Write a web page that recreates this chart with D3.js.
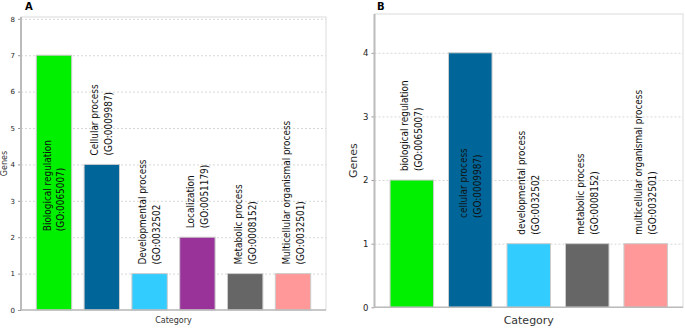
<!DOCTYPE html>
<html>
<head>
<meta charset="utf-8">
<script src="https://cdn.jsdelivr.net/npm/d3@7"></script>
<style>
  body { margin: 0; background: #fff; }
  svg { display: block; font-family: "DejaVu Sans", sans-serif; }
</style>
</head>
<body>
<svg id="chart" width="685" height="328"></svg>
<script>
// panel A
const namesA = ["Biological regulation", "Cellular process", "Developmental process",
  "Localization", "Metabolic process", "Multicellular organismal process"];
const goA = ["(GO:0065007)", "(GO:0009987)", "(GO:0032502", "(GO:0051179)", "(GO:0008152)", "(GO:0032501)"];
const valuesA = [7, 4, 1, 2, 1, 1];
const colorsA = ["#00f000", "#006699", "#33ccff", "#993399", "#666666", "#ff9999"];
const ticksA = [0, 1, 2, 3, 4, 5, 6, 7, 8];

// panel B
const namesB = ["biological regulation", "cellular process", "developmental process",
  "metabolic process", "multicellular organismal process"];
const goB = ["(GO:0065007)", "(GO:0009987)", "(GO:0032502", "(GO:0008152)", "(GO:0032501)"];
const valuesB = [2, 4, 1, 1, 1];
const colorsB = ["#00f000", "#006699", "#33ccff", "#666666", "#ff9999"];
const ticksB = [0, 1, 2, 3, 4];

const svg = d3.select("#chart");

function drawPanel(opt) {
  const g = svg.append("g");
  const idx = d3.range(opt.names.length);

  const x = d3.scaleBand()
    .domain(idx)
    .range([opt.left, opt.right])
    .paddingInner(opt.padIn)
    .paddingOuter(opt.padOut);

  const y = d3.scaleLinear()
    .domain([0, opt.ymax])
    .range([opt.bottom, opt.top]);

  // frame
  g.append("rect")
    .attr("x", opt.left)
    .attr("y", opt.top)
    .attr("width", opt.right - opt.left)
    .attr("height", opt.bottom - opt.top)
    .attr("fill", "none")
    .attr("stroke", "#dcdcdc");

  // grid
  g.selectAll(".grid")
    .data(opt.ticks.filter((d) => d > 0))
    .enter()
    .append("line")
    .attr("x1", opt.left)
    .attr("x2", opt.right)
    .attr("y1", (d) => y(d) + 0.5)
    .attr("y2", (d) => y(d) + 0.5)
    .attr("stroke", "#d8d8d8")
    .attr("stroke-dasharray", "2,2");

  // bars
  g.selectAll(".bar")
    .data(idx)
    .enter()
    .append("rect")
    .attr("x", (i) => x(i))
    .attr("y", (i) => y(opt.values[i]))
    .attr("width", x.bandwidth())
    .attr("height", (i) => y(0) - y(opt.values[i]))
    .attr("fill", (i) => opt.colors[i])
    .attr("stroke", "#cccccc");

  // y axis
  const yAxis = g.append("g")
    .attr("transform", `translate(${opt.left},0)`)
    .call(d3.axisLeft(y).tickValues(opt.ticks).tickSize(3).tickPadding(3).tickFormat(d3.format("d")));
  yAxis.select(".domain").remove();
  yAxis.selectAll(".tick line").attr("stroke", "#999");
  yAxis.selectAll(".tick text")
    .attr("fill", "#222")
    .style("font-size", opt.tickSize + "px")
    .style("font-family", "DejaVu Sans");

  // axis lines
  g.append("line")
    .attr("x1", opt.left).attr("x2", opt.left)
    .attr("y1", opt.top).attr("y2", opt.bottom)
    .attr("stroke", "#bbbbbb").attr("stroke-width", 2);
  g.append("line")
    .attr("x1", opt.left).attr("x2", opt.right)
    .attr("y1", opt.bottom).attr("y2", opt.bottom)
    .attr("stroke", "#bbbbbb").attr("stroke-width", 1.5);

  // bar labels, rotated and a bit squeezed along their length;
  // placed inside the bar when they would not fit above it
  idx.forEach((i) => {
    const cx = x(i) + x.bandwidth() / 2;
    const t = g.append("text")
      .style("font-size", opt.labelSize + "px")
      .attr("fill", "#111");
    t.append("tspan").attr("x", 0).attr("y", -opt.lineGap / 2 + 3.5).text(opt.names[i]);
    t.append("tspan").attr("x", 0).attr("y", opt.lineGap / 2 + 3.5).text(opt.goIds[i]);
    const len = t.node().getBBox().width * opt.squeeze;
    const barTop = y(opt.values[i]);
    let start = barTop - 9;
    if (start - len < opt.top + 4) {
      start = (barTop + opt.bottom) / 2 + len / 2 + 3;
    }
    t.attr("transform", `translate(${cx},${start}) rotate(-90) scale(${opt.squeeze},1)`);
  });

  // axis titles
  g.append("text")
    .attr("transform", `translate(${opt.genesX},${(opt.top + opt.bottom) / 2}) rotate(-90)`)
    .attr("text-anchor", "middle")
    .attr("fill", "#333")
    .style("font-size", opt.titleSize + "px")
    .text("Genes");
  g.append("text")
    .attr("x", (opt.left + opt.right) / 2)
    .attr("y", opt.catY)
    .attr("text-anchor", "middle")
    .attr("fill", "#333")
    .style("font-size", opt.titleSize + "px")
    .text("Category");

  g.append("text")
    .attr("x", opt.letterX)
    .attr("y", 10)
    .attr("font-weight", "bold")
    .style("font-size", "10px")
    .text(opt.letter);
}

drawPanel({
  names: namesA, goIds: goA, values: valuesA, colors: colorsA, ticks: ticksA,
  left: 21, right: 326, top: 17, bottom: 310, ymax: 8.05,
  padIn: 0.26, padOut: 0.32, tickSize: 7, labelSize: 10.5, squeeze: 0.85, lineGap: 14,
  titleSize: 8, genesX: 7, catY: 323, letter: "A", letterX: 25
});

drawPanel({
  names: namesB, goIds: goB, values: valuesB, colors: colorsB, ticks: ticksB,
  left: 374.5, right: 683, top: 14, bottom: 307.3, ymax: 4.61,
  padIn: 0.256, padOut: 0.266, tickSize: 8.5, labelSize: 10.5, squeeze: 0.85, lineGap: 14,
  titleSize: 11, genesX: 357, catY: 324, letter: "B", letterX: 377
});
</script>
</body>
</html>
